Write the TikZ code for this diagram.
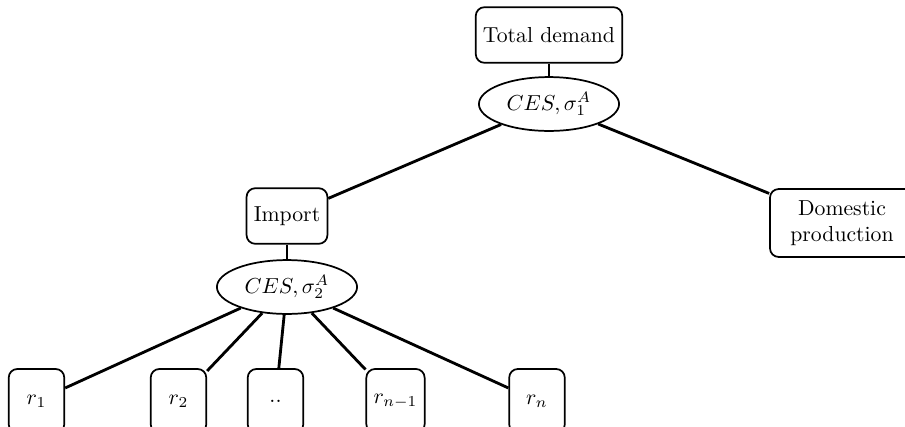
\documentclass[tikz,border=0pt]{standalone}
\usetikzlibrary{shapes.geometric}
\begin{document}
\begin{tikzpicture}[x=0.4608pt,y=-0.4608pt,
  box/.style={draw,rounded corners=4pt,line width=0.8pt,minimum size=0.9cm,inner sep=3.33pt},
  leaf/.style={box,minimum height=29.5pt},
  ces/.style={draw,ellipse,line width=0.8pt,inner sep=3.33pt},
  link/.style={line width=1.3pt}]
\useasboundingbox (0,0) rectangle (905,426);
\clip (0,0) rectangle (905,426);

% upper level
\node[box] (td) at (549,35) {Total demand};
\node[ces] (e1) at (549,104) {$CES, \sigma_1^A$};
\node[box] (imp) at (287,216) {Import};
\node[box,text width=59.7pt,align=center,minimum height=31.3pt] (dom) at (842,223) {Domestic\\production};

% import split by region
\node[ces] (e2) at (287,287) {$CES, \sigma_2^A$};
\node[leaf] (r1) at (36.5,401) {$r_1$};
\node[leaf] (r2) at (178.5,401) {$r_2$};
\node[leaf] (rd) at (275.5,401) {..};
\node[leaf] (rm) at (395.5,401) {$r_{n-1}$};
\node[leaf] (rn) at (537,401) {$r_n$};

\draw[link] (td) -- (e1);
\draw[link] (e1) -- (imp);
\draw[link] (e1) -- (dom);
\draw[link] (imp) -- (e2);
\foreach \r in {r1,r2,rd,rm,rn}
  \draw[link] (e2) -- (\r);
\end{tikzpicture}
\end{document}
